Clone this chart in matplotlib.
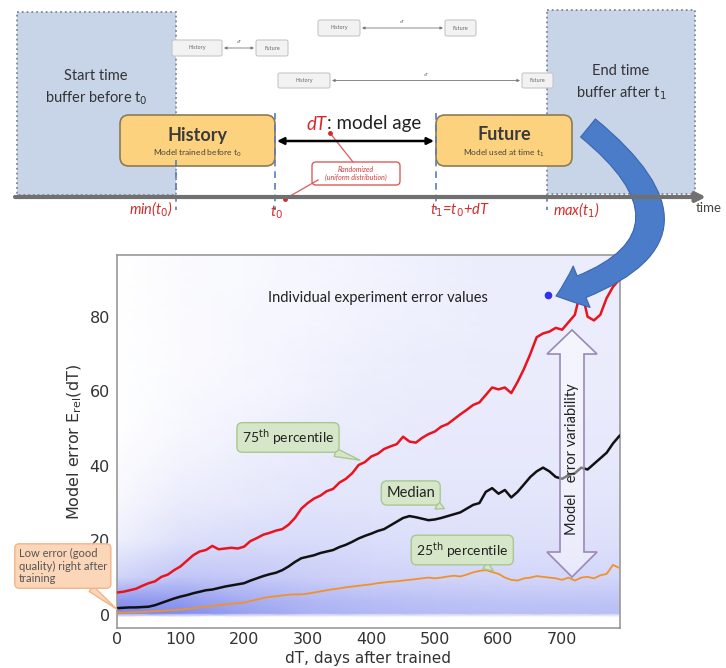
import numpy as np
import matplotlib
matplotlib.use("Agg")
import matplotlib.pyplot as plt
from matplotlib.patches import Rectangle, FancyBboxPatch, FancyArrowPatch, Polygon
from matplotlib.colors import LinearSegmentedColormap

# ---------------- data ----------------
dT_days = np.arange(0, 800, 10)

p75 = [6.0, 6.2, 6.6, 7.0, 7.8, 8.5, 9.0, 10.2, 10.8, 12.0,
       13.0, 14.5, 16.0, 17.0, 17.4, 18.5, 17.6, 17.8, 18.0, 17.8,
       18.3, 19.8, 20.6, 21.5, 22.0, 22.6, 23.0, 24.2, 26.0, 28.5,
       30.0, 31.2, 32.0, 33.2, 33.8, 35.5, 36.5, 38.0, 40.2, 41.0,
       42.5, 43.2, 44.5, 45.2, 45.8, 47.8, 46.5, 46.2, 47.5, 48.5,
       49.2, 50.5, 51.2, 52.5, 53.8, 55.0, 56.3, 57.0, 59.0, 61.0,
       60.5, 61.0, 59.5, 62.5, 66.0, 70.0, 74.5, 75.5, 76.0, 77.0,
       76.5, 78.5, 80.5, 87.5, 80.0, 79.0, 80.5, 85.0, 88.0, 90.0]

median = [1.8, 1.9, 2.0, 2.0, 2.1, 2.2, 2.6, 3.2, 3.8, 4.4,
          4.9, 5.3, 5.8, 6.2, 6.6, 6.8, 7.2, 7.6, 7.9, 8.2,
          8.5, 9.2, 9.8, 10.4, 10.9, 11.3, 12.0, 13.0, 14.2, 15.2,
          15.6, 16.0, 16.6, 17.0, 17.4, 18.2, 18.8, 19.6, 20.5, 21.2,
          21.8, 22.5, 23.0, 24.0, 25.0, 26.0, 26.5, 26.2, 25.8, 25.4,
          25.6, 26.0, 26.5, 27.0, 27.5, 28.5, 29.5, 30.0, 33.0, 34.0,
          32.5, 33.5, 31.5, 33.0, 35.0, 37.0, 38.5, 39.5, 38.5, 37.0,
          36.5, 37.5, 38.0, 39.5, 39.0, 40.5, 42.0, 43.5, 46.0, 48.0]

p25 = [0.6, 0.6, 0.7, 0.7, 0.8, 0.9, 1.0, 1.1, 1.2, 1.3,
       1.4, 1.6, 1.8, 2.0, 2.2, 2.4, 2.6, 2.8, 3.0, 3.1,
       3.3, 3.7, 4.1, 4.5, 4.8, 5.0, 5.2, 5.4, 5.5, 5.5,
       5.7, 6.0, 6.3, 6.6, 6.9, 7.1, 7.4, 7.6, 7.8, 8.0,
       8.2, 8.5, 8.7, 8.9, 9.0, 9.2, 9.4, 9.6, 9.8, 10.0,
       9.8, 10.0, 10.3, 10.5, 10.3, 10.8, 11.4, 11.8, 12.0, 11.5,
       11.0, 10.0, 9.4, 9.2, 9.8, 10.0, 10.4, 10.2, 10.0, 9.8,
       9.4, 10.0, 9.2, 10.0, 10.2, 9.8, 10.6, 11.0, 13.4, 12.6]

# density of individual experiment points
dens_x = [0, 100, 200, 300, 400, 500, 600, 700, 790]
dens_y = [-0.5, 0.5, 4, 10, 20, 30, 40, 50, 60, 70, 80, 90, 97]
dens = [
    [0.00, 0.00, 0.00, 0.00, 0.00, 0.00, 0.00, 0.00, 0.00],
    [0.62, 0.58, 0.48, 0.40, 0.36, 0.34, 0.33, 0.33, 0.33],
    [0.52, 0.50, 0.42, 0.36, 0.33, 0.31, 0.30, 0.30, 0.30],
    [0.22, 0.30, 0.28, 0.25, 0.23, 0.22, 0.21, 0.21, 0.21],
    [0.08, 0.16, 0.18, 0.18, 0.17, 0.16, 0.16, 0.16, 0.16],
    [0.04, 0.10, 0.12, 0.14, 0.14, 0.14, 0.14, 0.14, 0.14],
    [0.02, 0.06, 0.09, 0.11, 0.12, 0.12, 0.12, 0.12, 0.12],
    [0.00, 0.04, 0.07, 0.09, 0.10, 0.11, 0.11, 0.11, 0.11],
    [0.00, 0.03, 0.05, 0.07, 0.09, 0.10, 0.10, 0.10, 0.10],
    [0.00, 0.02, 0.04, 0.06, 0.08, 0.09, 0.10, 0.10, 0.10],
    [0.00, 0.02, 0.04, 0.05, 0.07, 0.08, 0.09, 0.09, 0.09],
    [0.00, 0.02, 0.03, 0.05, 0.06, 0.08, 0.09, 0.09, 0.09],
    [0.00, 0.02, 0.03, 0.05, 0.06, 0.08, 0.09, 0.09, 0.09],
]

highlight_point = (678, 85.8)
x_ticks = [0, 100, 200, 300, 400, 500, 600, 700]
y_ticks = [0, 20, 40, 60, 80]

# ---------------- figure ----------------
fig = plt.figure(figsize=(7.26, 6.68), dpi=100)
fig.patch.set_facecolor("white")

ax = fig.add_axes([0.161, 0.060, 0.693, 0.558])
cmap = LinearSegmentedColormap.from_list("pts", ["#ffffff", "#2a3be0"])
ax.pcolormesh(dens_x, dens_y, np.array(dens), shading="gouraud", cmap=cmap,
              vmin=0, vmax=1, zorder=0)
ax.plot(dT_days, p75, color="#e8141e", lw=1.8, zorder=3)
ax.plot(dT_days, median, color="#111111", lw=1.8, zorder=3)
ax.plot(dT_days, p25, color="#f0922b", lw=1.3, zorder=3)
ax.plot([highlight_point[0]], [highlight_point[1]], "o", color="#3030f0", ms=4.5, zorder=4)

ax.set_xlim(0, 791)
ax.set_ylim(-3.5, 96.5)
ax.set_xticks(x_ticks)
ax.set_yticks(y_ticks)
ax.tick_params(length=0, pad=3, labelsize=11.5, colors="#333333")
ax.tick_params(axis="y", pad=5)
for s in ax.spines.values():
    s.set_color("#999999")
    s.set_linewidth(1.2)
ax.set_xlabel("dT, days after trained", fontsize=11, color="#333333")
ax.set_ylabel("Model error E$_{\\rm rel}$(dT)", fontsize=11.5, color="#333333")
ax.xaxis.set_label_coords(0.5, -0.082)
ax.xaxis.label.set_va("center")
ax.yaxis.set_label_coords(-0.0835, 0.5)
ax.yaxis.label.set_va("center")

ax.text(410, 85, "Individual experiment error values", ha="center", va="center",
        fontsize=10.5, color="#222222", family="Lato", zorder=5)

green_fc, green_ec = "#d6e6c8", "#a9c88f"
def callout(text, xy_text, xy_tip, fc, ec, fs=10, color="#222222"):
    ax.annotate(text, xy=xy_tip, xytext=xy_text, ha="center", va="center",
                multialignment="left",
                fontsize=fs, color=color, family="Lato", zorder=6,
                annotation_clip=False,
                bbox=dict(boxstyle="round,pad=0.35,rounding_size=0.4", fc=fc, ec=ec, lw=1),
                arrowprops=dict(arrowstyle="wedge,tail_width=0.6,shrink_factor=0.5",
                                fc=fc, ec=ec, lw=1, shrinkA=0, shrinkB=0))

callout("75$^{\\rm th}$ percentile", (269, 47.6), (382, 41.5), green_fc, green_ec)
callout("Median", (462, 32.7), (515, 28.5), green_fc, green_ec, fs=10.5)
callout("25$^{\\rm th}$ percentile", (543, 17.4), (592, 11.8), green_fc, green_ec)
callout("Low error (good\nquality) right after\ntraining", (-85, 13.1), (0, 1.5),
        "#fbd6b8", "#f2b48a", fs=8, color="#555555")

# ---------------- overlay (diagram) ----------------
ov = fig.add_axes([0, 0, 1, 1])
ov.set_xlim(0, 726)
ov.set_ylim(668, 0)
ov.axis("off")
ov.patch.set_alpha(0)
ov.set_zorder(5)

blue_fc = "#c8d5e8"
ov.add_patch(Rectangle((17, 12), 159, 183, fc=blue_fc, ec="#7d8796", ls=":", lw=1.3))
ov.add_patch(Rectangle((547, 10), 148, 184, fc=blue_fc, ec="#7d8796", ls=":", lw=1.3))
ov.text(96, 88, "Start time\nbuffer before t$_0$", ha="center", va="center",
        fontsize=10.5, color="#333333", family="Lato", linespacing=1.5)
ov.text(621, 83, "End time\nbuffer after t$_1$", ha="center", va="center",
        fontsize=10.5, color="#333333", family="Lato", linespacing=1.5)

# timeline
ov.annotate("", xy=(706, 197), xytext=(15, 197),
            arrowprops=dict(arrowstyle="-|>", color="#707070", lw=3, mutation_scale=14,
                            shrinkA=0, shrinkB=0))
ov.text(709, 208, "time", ha="center", va="center", fontsize=9.5, color="#444444",
        family="Lato")

# dashed verticals
for xv, y0, y1 in [(176, 160, 210), (275, 113, 210), (436, 113, 210), (547, 195, 210)]:
    ov.plot([xv, xv], [y0, y1], ls=(0, (4, 3)), color="#5b7cb8", lw=1.2)

# history / future boxes
for (x0, x1, title, sub) in [(120, 275, "History", "Model trained before t$_0$"),
                             (436, 572, "Future", "Model used at time t$_1$")]:
    ov.add_patch(FancyBboxPatch((x0, 115), x1 - x0, 51,
                                boxstyle="round,pad=0,rounding_size=9",
                                fc="#fdd27e", ec="#8c7b55", lw=1.2))
    xc = (x0 + x1) / 2
    ov.text(xc, 135, title, ha="center", va="center", fontsize=13, color="#3a3a3a",
            family="Lato", fontweight="bold")
    ov.text(xc, 153, sub, ha="center", va="center", fontsize=6, color="#444444", family="Lato")

# dT arrow
ov.annotate("", xy=(434, 141), xytext=(277, 141),
            arrowprops=dict(arrowstyle="<|-|>", color="black", lw=1.8, mutation_scale=10,
                            shrinkA=0, shrinkB=0))
ov.text(327, 124, "dT", ha="right", va="center", fontsize=13.5, color="#d42a2a",
        style="italic", family="Lato")
ov.text(327, 124, ": model age", ha="left", va="center", fontsize=13.5, color="#222222",
        family="Lato")

# randomized box
ov.add_patch(FancyBboxPatch((312, 162), 88, 23, boxstyle="round,pad=0,rounding_size=4",
                            fc="white", ec="#e05a5a", lw=1))
ov.text(356, 173.5, "Randomized\n(uniform distribution)", ha="center", va="center",
        fontsize=5, color="#d43a3a", style="italic", family="Lato")
ov.plot([330, 353], [133, 162], color="#e05a5a", lw=0.9)
ov.plot([318, 285], [180, 199], color="#e05a5a", lw=0.9)
ov.plot([330], [133], "o", color="#d42a2a", ms=2.5)
ov.plot([285], [199], "o", color="#d42a2a", ms=2.5)

# time labels
red_lab = dict(color="#d42a2a", style="italic", family="Lato", fontsize=10.5, va="center")
ov.text(173, 209, "min(t$_0$)", ha="right", **red_lab)
ov.text(277, 212, "t$_0$", ha="center", **red_lab)
ov.text(430, 210, "t$_1$=t$_0$+dT", ha="left", **red_lab)
ov.text(553, 210, "max(t$_1$)", ha="left", **red_lab)

# small example boxes
def small_pair(hx0, hx1, fx0, fx1, ytop, ybot):
    for (a, b, t) in [(hx0, hx1, "History"), (fx0, fx1, "Future")]:
        ov.add_patch(FancyBboxPatch((a, ytop), b - a, ybot - ytop,
                                    boxstyle="round,pad=0,rounding_size=2",
                                    fc="#f2f2f2", ec="#c6c6c6", lw=0.8))
        ov.text((a + b) / 2, (ytop + ybot) / 2, t, ha="center", va="center",
                fontsize=3.5, color="#666666")
    ym = (ytop + ybot) / 2
    ov.annotate("", xy=(fx0 - 2, ym), xytext=(hx1 + 2, ym),
                arrowprops=dict(arrowstyle="<|-|>", color="#777777", lw=0.6,
                                mutation_scale=4, shrinkA=0, shrinkB=0))
    ov.text((hx1 + fx0) / 2, ym - 4, "dT", ha="center", va="bottom", fontsize=3,
            color="#666666")

small_pair(172, 222, 256, 288, 40, 56)
small_pair(318, 360, 445, 476, 20, 36)
small_pair(278, 330, 522, 553, 73, 88)

# big blue curved arrow
ov.add_patch(FancyArrowPatch((588, 128), (556, 296), connectionstyle="arc3,rad=-0.92",
                             arrowstyle="simple,head_length=1.4,head_width=2.3,tail_width=1.2",
                             mutation_scale=14, fc="#4a7cc9", ec="#3a66ad", lw=0.8,
                             shrinkA=0, shrinkB=0))

# hollow double arrow (model error variability)
cx = 572
poly = [(cx, 330), (597, 354), (584, 354), (584, 552), (597, 552), (cx, 577),
        (547, 552), (560, 552), (560, 354), (547, 354)]
ov.add_patch(Polygon(poly, closed=True, fc=(1, 1, 1, 0.45), ec="#9a88b8", lw=1.2))
ov.text(cx, 459, "Model   error variability", rotation=90, ha="center", va="center",
        fontsize=10.5, color="#222222", family="Lato")

fig.savefig("out.png", dpi=100)
